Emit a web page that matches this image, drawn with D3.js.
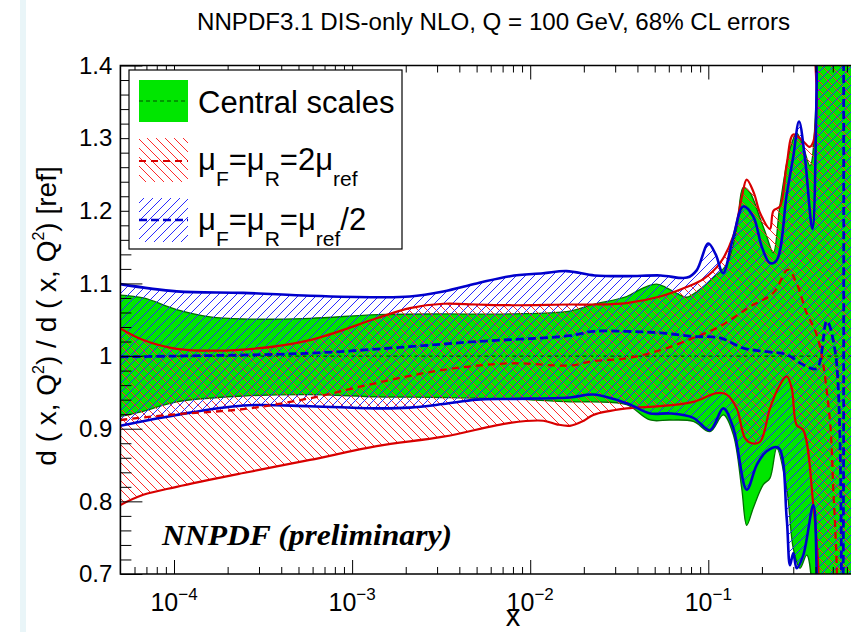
<!DOCTYPE html>
<html><head><meta charset="utf-8">
<script src="https://cdn.jsdelivr.net/npm/d3@7"></script>
<style>body{margin:0;background:#fff}svg text{font-family:"Liberation Sans",Arial,sans-serif;fill:#000}</style>
</head><body><svg id="c" width="851" height="632"></svg>
<script>
// ---------- DATA ----------
const titleText = "NNPDF3.1 DIS-only NLO, Q = 100 GeV, 68% CL errors";
const yTicks = [0.7, 0.8, 0.9, 1, 1.1, 1.2, 1.3, 1.4];
const yTickLabels = ["0.7", "0.8", "0.9", "1", "1.1", "1.2", "1.3", "1.4"];
const xTicks = [1e-4, 1e-3, 1e-2, 1e-1];
const xTickExps = ["\u22124", "\u22123", "\u22122", "\u22121"];
const xDomain = [5e-5, 1];
const yDomain = [0.7, 1.4];

// Central scales (green band)
const greenUpX = [5e-5,6.72e-5,1.035e-4,1.59e-4,2.45e-4,5.8e-4,1.374e-3,3.25e-3,7.7e-3,1.67e-2,2.26e-2,3.48e-2,4.32e-2,5.13e-2,5.84e-2,6.94e-2,7.56e-2,8.98e-2,0.1067,0.1268,0.1443,0.1572,0.1714,0.1952,0.2127,0.2317,0.2526,0.2875,0.3135,0.3415,0.3724,0.4061,0.415,1.0];
const greenUpY = [1.084,1.080,1.064,1.054,1.051,1.052,1.057,1.058,1.058,1.062,1.071,1.082,1.094,1.099,1.094,1.084,1.081,1.092,1.108,1.126,1.175,1.232,1.225,1.190,1.165,1.142,1.208,1.285,1.307,1.288,1.262,1.372,1.8,1.8];
const greenLoX = [5e-5,6.72e-5,1.035e-4,2.45e-4,5.8e-4,1.374e-3,3.25e-3,7.7e-3,1.67e-2,2.26e-2,3.48e-2,4.71e-2,6.1e-2,8.24e-2,0.1022,0.1214,0.1381,0.154,0.1643,0.1789,0.2036,0.222,0.2421,0.2755,0.3001,0.3272,0.3568,0.39,0.40,1.0];
const greenLoY = [0.917,0.924,0.937,0.945,0.947,0.944,0.943,0.941,0.937,0.937,0.933,0.912,0.912,0.910,0.896,0.919,0.892,0.818,0.767,0.791,0.823,0.832,0.873,0.818,0.735,0.708,0.726,0.65,0.3,0.3];
const greenCentralY = 1.0;

// muF = muR = 2 mu_ref (red band)
const redUpX = [5e-5,6.72e-5,1.035e-4,2.45e-4,5.8e-4,1.374e-3,2.11e-3,3.25e-3,5.0e-3,7.7e-3,1.67e-2,2.26e-2,3.48e-2,5.36e-2,7.56e-2,9.37e-2,0.1163,0.1381,0.154,0.1643,0.18,0.1952,0.222,0.232,0.2526,0.2755,0.3001,0.34,0.37,0.3886,0.4061,0.4237,1.0];
const redUpY = [1.038,1.022,1.010,1.009,1.022,1.052,1.066,1.072,1.071,1.070,1.071,1.071,1.073,1.082,1.095,1.106,1.128,1.165,1.218,1.243,1.225,1.197,1.175,1.200,1.206,1.264,1.305,1.296,1.288,1.295,1.345,1.8,1.8];
const redLoX = [5e-5,6.72e-5,1.035e-4,2.45e-4,5.8e-4,1.374e-3,3.25e-3,7.7e-3,1.184e-2,1.41e-2,1.67e-2,2.0e-2,2.26e-2,3.48e-2,5.36e-2,8.24e-2,0.1115,0.1268,0.1443,0.1607,0.1752,0.1952,0.222,0.2472,0.2755,0.2939,0.3135,0.3415,0.3886,0.4146,0.43,1.0];
const redLoY = [0.795,0.809,0.820,0.839,0.857,0.876,0.889,0.908,0.911,0.906,0.904,0.911,0.919,0.928,0.931,0.937,0.949,0.947,0.928,0.887,0.880,0.882,0.928,0.956,0.972,0.956,0.905,0.898,0.795,0.708,0.3,0.3];
const redCentralX = [5e-5,1.035e-4,2.45e-4,5.8e-4,1.374e-3,3.25e-3,7.7e-3,1.67e-2,2.26e-2,3.48e-2,5.36e-2,8.24e-2,0.1163,0.1714,0.2317,0.28,0.3135,0.3568,0.3886,0.4237,0.4823,0.5031,0.5257,0.54];
const redCentralY = [0.912,0.920,0.927,0.942,0.963,0.981,0.990,0.987,0.993,0.997,1.008,1.025,1.041,1.068,1.087,1.119,1.100,1.059,1.041,1.013,0.910,0.818,0.712,0.5];

// muF = muR = mu_ref / 2 (blue band)
const blueUpX = [5e-5,1.035e-4,2.45e-4,5.8e-4,1.374e-3,2.11e-3,3.25e-3,5.0e-3,7.7e-3,1.18e-2,1.6e-2,2.3e-2,3.5e-2,5.4e-2,7.6e-2,8.6e-2,0.1,0.11,0.121,0.137,0.1572,0.1789,0.2,0.222,0.2421,0.2755,0.3001,0.3231,0.3491,0.3837,0.4061,0.42,1.0];
const blueUpY = [1.099,1.089,1.087,1.083,1.081,1.082,1.089,1.100,1.110,1.114,1.117,1.111,1.110,1.111,1.108,1.118,1.155,1.140,1.114,1.160,1.206,1.192,1.150,1.128,1.132,1.222,1.275,1.323,1.272,1.175,1.375,1.8,1.8];
const blueLoX = [5e-5,1.035e-4,2.45e-4,5.8e-4,1.374e-3,2.11e-3,3.25e-3,5.0e-3,7.7e-3,1.67e-2,2.26e-2,3.48e-2,4.71e-2,6.1e-2,8.24e-2,0.1022,0.1214,0.1381,0.1643,0.1869,0.2127,0.2472,0.2755,0.2875,0.3001,0.3135,0.3415,0.3886,0.4061,0.42,1.0];
const blueLoY = [0.904,0.919,0.932,0.931,0.928,0.929,0.934,0.940,0.941,0.943,0.947,0.935,0.921,0.921,0.915,0.898,0.928,0.901,0.816,0.850,0.869,0.874,0.777,0.712,0.729,0.708,0.726,0.795,0.700,0.3,0.3];
const blueCentralX = [5e-5,1.035e-4,5.8e-4,2.11e-3,5.0e-3,1.67e-2,2.26e-2,3.48e-2,5.36e-2,8.24e-2,0.1163,0.1572,0.2127,0.2755,0.3415,0.4061,0.4622,0.52,0.565,0.573];
const blueCentralY = [0.999,1.000,1.004,1.013,1.020,1.028,1.034,1.034,1.032,1.027,1.025,1.011,1.006,1.002,0.988,0.983,1.048,1.000,0.6,1.8];

const legendLabels = ["Central scales", "2", "/2"];

// ---------- CHART ----------
const svg = d3.select("#c");
const W = 851, H = 632;
const x = d3.scaleLog().domain(xDomain).range([120.4, 886.4]);
const y = d3.scaleLinear().domain(yDomain).range([574, 65.5]);
const GREEN = "#00e600", GREEN_D = "#007000", RED = "#d80000", BLUE = "#0000cc";
const RED_H = "#ff2a2a", BLUE_H = "#2a2aff";

svg.append("rect").attr("width", W).attr("height", H).attr("fill", "#fff");
svg.append("rect").attr("x", 20).attr("y", 0).attr("width", 6).attr("height", H).attr("fill", "#e9f5f8");

const defs = svg.append("defs");
defs.append("clipPath").attr("id", "plotclip").append("rect")
  .attr("x", x.range()[0]).attr("y", y.range()[1])
  .attr("width", x.range()[1] - x.range()[0]).attr("height", y.range()[0] - y.range()[1]);
function hatch(id, color, back) {
  const p = defs.append("pattern").attr("id", id).attr("patternUnits", "userSpaceOnUse")
    .attr("width", 9).attr("height", 9);
  p.append("path").attr("d", back
      ? "M-2,-2L11,11M-2,7L2,11M7,-2L11,2"
      : "M-2,11L11,-2M-2,2L2,-2M7,11L11,7")
    .attr("stroke", color).attr("stroke-width", 1).attr("fill", "none");
}
hatch("hRed", RED_H, true);
hatch("hBlue", BLUE_H, false);

const zip = (xs, ys) => xs.map((v, i) => [v, ys[i]]);
const lineGen = d3.line().x(d => x(d[0])).y(d => y(d[1])).curve(d3.curveCatmullRom.alpha(0.5));
const bandPath = (up, lo) => lineGen(up) + lineGen(lo.slice().reverse()).replace(/^M/, "L") + "Z";

const greenUp = zip(greenUpX, greenUpY), greenLo = zip(greenLoX, greenLoY);
const redUp = zip(redUpX, redUpY), redLo = zip(redLoX, redLoY);
const blueUp = zip(blueUpX, blueUpY), blueLo = zip(blueLoX, blueLoY);

const plot = svg.append("g").attr("clip-path", "url(#plotclip)");
plot.append("path").attr("d", bandPath(greenUp, greenLo)).attr("fill", GREEN).attr("stroke", "none");
[greenUp, greenLo].forEach(c => plot.append("path").attr("d", lineGen(c)).attr("fill", "none")
  .attr("stroke", GREEN_D).attr("stroke-width", 1.3));
plot.append("path").attr("d", lineGen([[xDomain[0], greenCentralY], [xDomain[1], greenCentralY]]))
  .attr("fill", "none").attr("stroke", "#004d00").attr("stroke-width", 1.2).attr("stroke-dasharray", "4,3");
plot.append("path").attr("d", bandPath(redUp, redLo)).attr("fill", "url(#hRed)");
plot.append("path").attr("d", bandPath(blueUp, blueLo)).attr("fill", "url(#hBlue)");
[redUp, redLo].forEach(c => plot.append("path").attr("d", lineGen(c)).attr("fill", "none")
  .attr("stroke", RED).attr("stroke-width", 2.2));
[blueUp, blueLo].forEach(c => plot.append("path").attr("d", lineGen(c)).attr("fill", "none")
  .attr("stroke", BLUE).attr("stroke-width", 2.6));
plot.append("path").attr("d", lineGen(zip(redCentralX, redCentralY))).attr("fill", "none")
  .attr("stroke", RED).attr("stroke-width", 2.3).attr("stroke-dasharray", "7,5");
plot.append("path").attr("d", lineGen(zip(blueCentralX, blueCentralY))).attr("fill", "none")
  .attr("stroke", BLUE).attr("stroke-width", 2.8).attr("stroke-dasharray", "8,4");

// ---------- AXES ----------
const xMinor = [];
for (let e = -5; e <= -1; e++) for (let m = 2; m <= 9; m++) {
  const v = m * Math.pow(10, e);
  if (v > xDomain[0] && v < xDomain[1]) xMinor.push(v);
}
const yMinor = d3.range(0.72, 1.4, 0.02).filter(v => Math.abs(v * 10 - Math.round(v * 10)) > 1e-6);

function styleAxis(g) { g.select(".domain").remove(); g.selectAll("line").attr("stroke", "#000").attr("stroke-width", 1); }
svg.append("g").attr("transform", `translate(0,${y.range()[0]})`)
  .call(d3.axisBottom(x).tickValues(xTicks).tickSize(-14).tickFormat("")).call(styleAxis);
svg.append("g").attr("transform", `translate(0,${y.range()[0]})`)
  .call(d3.axisBottom(x).tickValues(xMinor).tickSize(-7).tickFormat("")).call(styleAxis);
svg.append("g").attr("transform", `translate(0,${y.range()[1]})`)
  .call(d3.axisTop(x).tickValues(xTicks).tickSize(-14).tickFormat("")).call(styleAxis);
svg.append("g").attr("transform", `translate(0,${y.range()[1]})`)
  .call(d3.axisTop(x).tickValues(xMinor).tickSize(-7).tickFormat("")).call(styleAxis);
const yAx = svg.append("g").attr("transform", `translate(${x.range()[0]},0)`)
  .call(d3.axisLeft(y).tickValues(yTicks).tickSize(-22).tickPadding(8)
    .tickFormat((d, i) => yTickLabels[i])).call(styleAxis);
yAx.selectAll("text").attr("font-size", 24).attr("font-family", "Liberation Sans, Arial, sans-serif").attr("fill", "#000");
svg.append("g").attr("transform", `translate(${x.range()[0]},0)`)
  .call(d3.axisLeft(y).tickValues(yMinor).tickSize(-11).tickFormat("")).call(styleAxis);

// frame
svg.append("path").attr("d", `M${x.range()[1]},${y.range()[1]}H${x.range()[0]}V${y.range()[0]}H${x.range()[1]}`)
  .attr("fill", "none").attr("stroke", "#000").attr("stroke-width", 1.6);

// x tick labels
xTicks.forEach((v, i) => {
  const t = svg.append("text").attr("x", x(v)).attr("y", 611).attr("text-anchor", "middle").attr("font-size", 25);
  t.append("tspan").text("10");
  t.append("tspan").attr("dy", -11).attr("font-size", 17).text(xTickExps[i]);
});
svg.append("text").attr("x", 513).attr("y", 626).attr("text-anchor", "middle").attr("font-size", 29).text("x");

// y label
const yl = svg.append("text").attr("transform", "translate(56,316) rotate(-90)")
  .attr("text-anchor", "middle").attr("font-size", 28);
yl.append("tspan").text("d ( x, Q");
yl.append("tspan").attr("font-size", 16).attr("dy", -12).text("2");
yl.append("tspan").attr("dy", 12).text(") / d ( x, Q");
yl.append("tspan").attr("font-size", 16).attr("dy", -12).text("2");
yl.append("tspan").attr("dy", 12).text(") [ref]");

// title
svg.append("text").attr("x", 197).attr("y", 30).attr("font-size", 23)
  .attr("textLength", 593).attr("lengthAdjust", "spacingAndGlyphs").text(titleText);

// NNPDF preliminary
svg.append("text").attr("x", 162).attr("y", 545).attr("font-size", 30)
  .style("font-family", "'Liberation Serif', 'DejaVu Serif', serif").attr("font-style", "italic").attr("font-weight", "bold")
  .attr("textLength", 290).attr("lengthAdjust", "spacingAndGlyphs").text("NNPDF (preliminary)");

// ---------- LEGEND ----------
const lg = svg.append("g");
lg.append("rect").attr("x", 129).attr("y", 70).attr("width", 273).attr("height", 179)
  .attr("fill", "#fff").attr("stroke", "#000").attr("stroke-width", 1.2);
lg.append("rect").attr("x", 139).attr("y", 80).attr("width", 49).attr("height", 42).attr("fill", GREEN);
lg.append("line").attr("x1", 139).attr("x2", 188).attr("y1", 101).attr("y2", 101)
  .attr("stroke", "#004d00").attr("stroke-width", 1.2).attr("stroke-dasharray", "4,3");
lg.append("rect").attr("x", 139).attr("y", 138).attr("width", 49).attr("height", 44).attr("fill", "url(#hRed)");
lg.append("line").attr("x1", 139).attr("x2", 188).attr("y1", 161).attr("y2", 161)
  .attr("stroke", RED).attr("stroke-width", 2.2).attr("stroke-dasharray", "7,5");
lg.append("rect").attr("x", 139).attr("y", 198).attr("width", 49).attr("height", 44).attr("fill", "url(#hBlue)");
lg.append("line").attr("x1", 139).attr("x2", 188).attr("y1", 220).attr("y2", 220)
  .attr("stroke", BLUE).attr("stroke-width", 2.6).attr("stroke-dasharray", "8,4");

lg.append("text").attr("x", 198).attr("y", 113).attr("font-size", 31).text(legendLabels[0]);
function muText(yb, parts) {
  const t = lg.append("text").attr("x", 198).attr("y", yb).attr("font-size", 31);
  let low = false;
  parts.forEach(p => {
    if (p.sub) { t.append("tspan").attr("dy", low ? 0 : 16).attr("font-size", 21).text(p.sub); low = true; }
    else { t.append("tspan").attr("dy", low ? -16 : 0).text(p.t); low = false; }
  });
}
muText(170, [{t: "\u03bc"}, {sub: "F"}, {t: "=\u03bc"}, {sub: "R"}, {t: "=" + legendLabels[1] + "\u03bc"}, {sub: "ref"}]);
muText(230, [{t: "\u03bc"}, {sub: "F"}, {t: "=\u03bc"}, {sub: "R"}, {t: "=\u03bc"}, {sub: "ref"}, {t: legendLabels[2]}]);
</script></body></html>
